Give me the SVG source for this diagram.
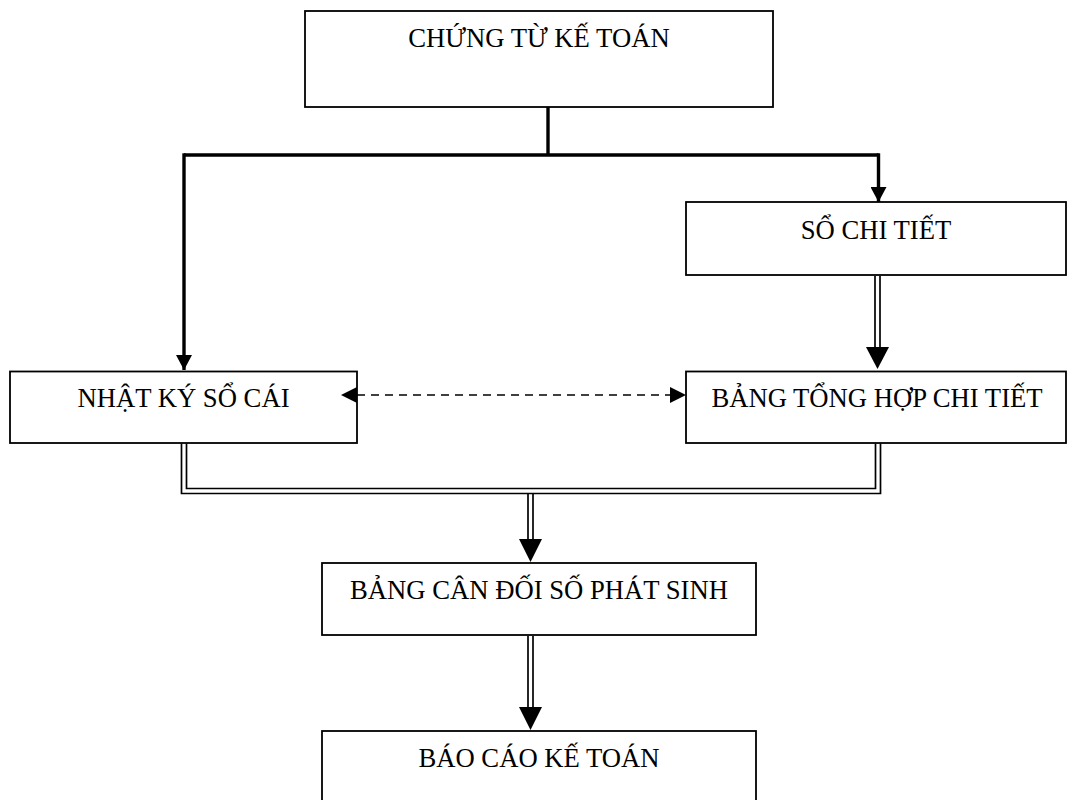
<svg xmlns="http://www.w3.org/2000/svg" width="1069" height="800" viewBox="0 0 1069 800">
  <style>
    .box { fill: #ffffff; stroke: #000000; stroke-width: 1.8; }
    .label { font-family: "Liberation Serif", "Times New Roman", serif; font-size: 26.67px; fill: #000000; text-anchor: middle; }
    .thick { fill: none; stroke: #000000; stroke-width: 3.4; stroke-linejoin: miter; }
    .dbl { fill: none; stroke: #000000; stroke-width: 1.7; stroke-linejoin: miter; }
    .dash { fill: none; stroke: #000000; stroke-width: 1.5; stroke-dasharray: 8 6; }
    .head { fill: #000000; stroke: none; }
  </style>
  <defs>
    <marker id="arrowSmall" markerUnits="userSpaceOnUse" markerWidth="15" markerHeight="16" refX="15" refY="8" orient="auto" viewBox="0 0 15 16">
      <path d="M0,0 L15,8 L0,16 Z" fill="#000000"/>
    </marker>
  </defs>

  <g id="chung-tu-ke-toan">
    <rect class="box" x="305" y="11" width="468" height="96"/>
    <text class="label" x="539" y="47">CHỨNG TỪ KẾ TOÁN</text>
  </g>

  <g id="so-chi-tiet">
    <rect class="box" x="686" y="202" width="380" height="73"/>
    <text class="label" x="876" y="239">SỔ CHI TIẾT</text>
  </g>

  <g id="nhat-ky-so-cai">
    <rect class="box" x="10" y="371.5" width="347" height="71.5"/>
    <text class="label" x="183.5" y="407">NHẬT KÝ SỔ CÁI</text>
  </g>

  <g id="bang-tong-hop-chi-tiet">
    <rect class="box" x="686" y="371.5" width="380" height="71.5"/>
    <text class="label" x="877" y="407">BẢNG TỔNG HỢP CHI TIẾT</text>
  </g>

  <g id="bang-can-doi-so-phat-sinh">
    <rect class="box" x="322" y="563" width="434" height="72"/>
    <text class="label" x="539" y="599">BẢNG CÂN ĐỐI SỐ PHÁT SINH</text>
  </g>

  <g id="bao-cao-ke-toan">
    <rect class="box" x="322" y="731" width="434" height="80"/>
    <text class="label" x="539" y="767">BÁO CÁO KẾ TOÁN</text>
  </g>

  <!-- connectors, drawn over the boxes so the arrow tips stay visible -->
  <g id="connectors">
    <!-- split from source documents -->
    <path class="thick" d="M548,107 V155"/>
    <path class="thick" d="M184,155 H878.5"/>
    <path class="thick" d="M184,153.3 V370" marker-end="url(#arrowSmall)"/>
    <path class="thick" d="M878.5,153.3 V202" marker-end="url(#arrowSmall)"/>

    <!-- detail ledger to detail summary (double line) -->
    <path class="dbl" d="M875,276 V348"/>
    <path class="dbl" d="M880,276 V348"/>
    <polygon class="head" points="866,347 889,347 877.5,369"/>

    <!-- two-way reconciliation -->
    <path class="dash" d="M357,395 H670"/>
    <polygon class="head" points="341,395 357,387 357,403"/>
    <polygon class="head" points="686,395 670,387 670,403"/>

    <!-- merge into trial balance (double line) -->
    <path class="dbl" d="M181.5,443.5 V493.5 H880.5 V443.5"/>
    <path class="dbl" d="M186.5,443.5 V488.5 H875.5 V443.5"/>
    <path class="dbl" d="M528,493.5 V540"/>
    <path class="dbl" d="M533,493.5 V540"/>
    <polygon class="head" points="519,539 542,539 530.5,562"/>

    <!-- trial balance to financial reports (double line) -->
    <path class="dbl" d="M528,636 V708"/>
    <path class="dbl" d="M533,636 V708"/>
    <polygon class="head" points="519,707 542,707 530.5,730"/>
  </g>
</svg>
